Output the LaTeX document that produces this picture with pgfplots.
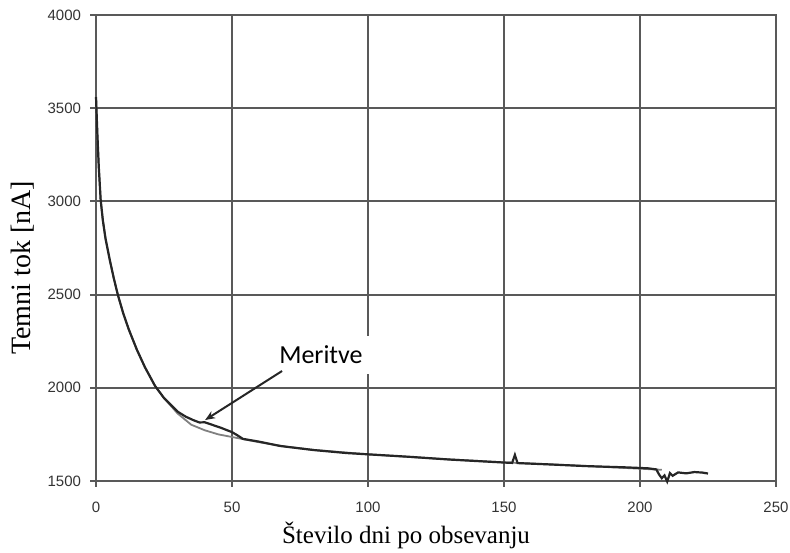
\documentclass[border=0pt]{standalone}
\usepackage{fontspec}
\setmainfont{Liberation Serif}
\setsansfont{Liberation Sans}
\newfontfamily\calibri{Carlito}
\usepackage{pgfplots}
\pgfplotsset{compat=1.18}
\usetikzlibrary{arrows.meta}

\definecolor{gridc}{gray}{0.35}

% Measured dark current after irradiation
\pgfplotstableread{
day  I
0    3560
0.5  3360
1    3190
1.7  3010
2.5  2900
3.5  2800
5    2690
6.5  2590
8    2500
10   2400
12   2315
15   2205
18   2110
21.7 2010
25   1945
30   1872
33   1845
35.7 1827
38   1814
40   1815
43   1800
46   1785
50   1762
52   1745
54   1726
60   1711
67.6 1688
80   1666
92   1650
100  1643
115  1630
130  1615
150  1599
153  1597
154  1640
155  1596
165  1590
180  1580
195  1573
203  1568
206  1562
207  1535
208  1515
209  1530
210  1497
211  1542
212  1528
214  1546
217  1541
220  1548
223  1545
225  1540
}\meas

% Fitted curve
\pgfplotstableread{
day  I
0    3560
0.5  3360
1    3190
1.7  3010
2.5  2900
3.5  2800
5    2690
6.5  2590
8    2500
10   2400
12   2315
15   2205
18   2110
21.7 2010
25   1945
30   1862
35   1802
40   1772
45   1750
50   1736
55   1722
60   1708
70   1684
80   1667
100  1643
125  1620
150  1600
175  1584
200  1566
208  1560
}\fitc

\begin{document}
\begin{tikzpicture}
\begin{axis}[
  scale only axis,
  width=340pt, height=233pt,
  xmin=0, xmax=250, ymin=1500, ymax=4000,
  xtick={0,50,...,250},
  ytick={1500,2000,...,4000},
  grid=major,
  major grid style={draw=gridc, line width=1pt},
  axis line style={draw=gridc, line width=1.2pt},
  tick style={draw=gridc, line width=1pt},
  tick align=outside,
  major tick length=3pt,
  tick pos=left,
  /pgf/number format/assume math mode=true,
  /pgf/number format/1000 sep={},
  ticklabel style={font=\sffamily\fontsize{7.5}{8}\selectfont, text=black!80},
  xticklabel style={yshift=-4pt},
  yticklabel style={xshift=-1pt},
  xlabel={Število dni po obsevanju},
  ylabel={Temni tok [nA]},
  xlabel style={font=\fontsize{12.5}{14}\selectfont, yshift=2pt, xshift=-15pt},
  ylabel style={font=\fontsize{14}{16}\selectfont, yshift=0pt, xshift=-10pt},
  clip=false,
]
\addplot[draw=black!50, line width=0.9pt] table[x=day, y=I] {\fitc};
\addplot[draw=black!85, line width=1.1pt] table[x=day, y=I] {\meas};

\node[fill=white, inner xsep=4pt, minimum height=19pt, anchor=center]
  at (axis cs:82.7,2176) {\calibri\fontsize{13}{15}\selectfont Meritve};
\draw[black!85, line width=1pt, -{Stealth[length=5pt,width=4pt]}]
  (axis cs:68.4,2090) -- (axis cs:40.1,1827);

\coordinate (bbl) at (axis cs:-35.3,1114);
\coordinate (btr) at (axis cs:255.15,4080.5);
\end{axis}
\pgfresetboundingbox
\path[use as bounding box] (bbl) rectangle (btr);
\end{tikzpicture}
\end{document}
